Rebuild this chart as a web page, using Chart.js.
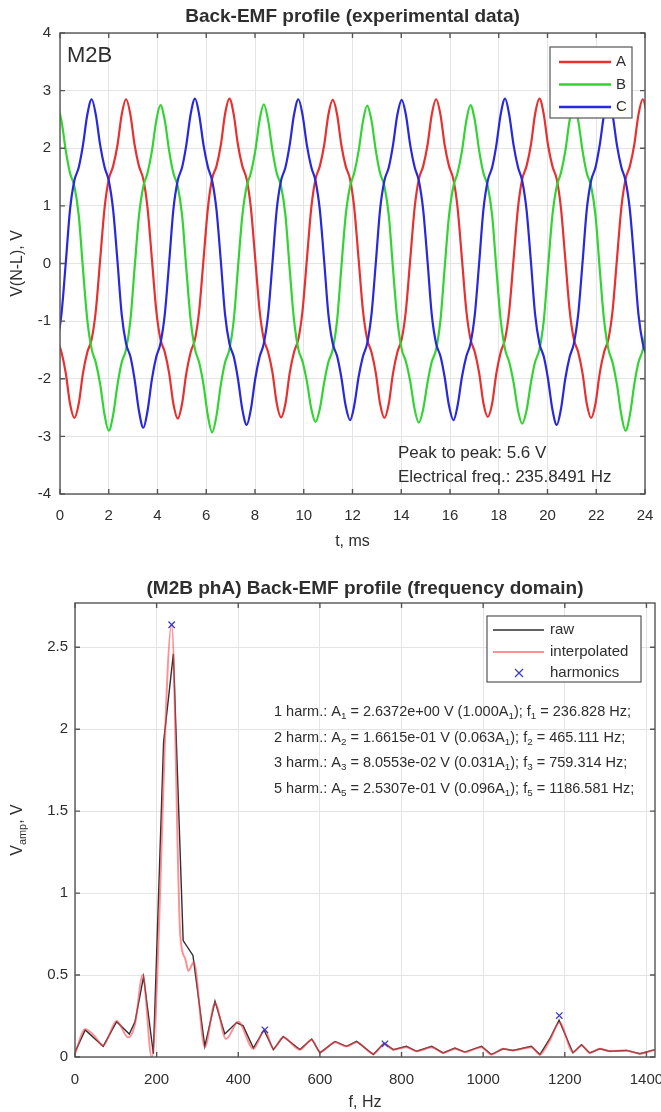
<!DOCTYPE html>
<html>
<head>
<meta charset="utf-8">
<script src="https://cdn.jsdelivr.net/npm/chart.js@4.4.1/dist/chart.umd.min.js"></script>
<style>
  html, body { margin: 0; padding: 0; background: #fff; }
  #wrap { position: relative; width: 661px; height: 1112px; overflow: hidden; }
  .caixa { position: absolute; left: 0; width: 661px; height: 556px; }
  #cima { top: 0; }
  #baixo { top: 556px; }
</style>
</head>
<body>
<div id="wrap">
  <div class="caixa" id="cima"><canvas id="emfTempo" width="661" height="556"></canvas></div>
  <div class="caixa" id="baixo"><canvas id="emfFreq" width="661" height="556"></canvas></div>
</div>
<script>
// ===== Dados do gráfico de cima (domínio do tempo) =====
const tempoMs = [-0.12,
  0.06, 0.24, 0.41, 0.59, 0.77, 0.94, 1.12, 1.30, 1.47, 1.65, 1.83, 2.00, 2.18, 2.36, 2.53, 2.71, 2.89, 3.06, 3.24, 3.42, 3.59, 3.77, 3.95, 4.12,
  4.30, 4.48, 4.65, 4.83, 5.01, 5.18, 5.36, 5.54, 5.71, 5.89, 6.07, 6.24, 6.42, 6.60, 6.77, 6.95, 7.13, 7.30, 7.48, 7.66, 7.83, 8.01, 8.19, 8.36,
  8.54, 8.72, 8.89, 9.07, 9.25, 9.42, 9.60, 9.78, 9.95, 10.13, 10.31, 10.48, 10.66, 10.84, 11.01, 11.19, 11.37, 11.54, 11.72, 11.90, 12.07, 12.25, 12.43, 12.60,
  12.78, 12.96, 13.13, 13.31, 13.49, 13.66, 13.84, 14.02, 14.19, 14.37, 14.55, 14.72, 14.90, 15.08, 15.25, 15.43, 15.61, 15.78, 15.96, 16.14, 16.31, 16.49, 16.67, 16.84,
  17.02, 17.20, 17.37, 17.55, 17.73, 17.90, 18.08, 18.26, 18.43, 18.61, 18.79, 18.96, 19.14, 19.32, 19.49, 19.67, 19.85, 20.02, 20.20, 20.38, 20.55, 20.73, 20.91, 21.08,
  21.26, 21.44, 21.61, 21.79, 21.97, 22.14, 22.32, 22.50, 22.67, 22.85, 23.03, 23.20, 23.38, 23.56, 23.73, 23.91, 24.09];

const faseA = [-1.31,
  -1.54, -1.91, -2.43, -2.68, -2.43, -1.91, -1.54, -1.31, -0.82, 0.08, 0.97, 1.46, 1.69, 2.06, 2.58, 2.85, 2.58, 2.06, 1.69, 1.46, 0.97, 0.08, -0.82, -1.31,
  -1.54, -1.91, -2.43, -2.69, -2.43, -1.91, -1.54, -1.31, -0.82, 0.08, 0.97, 1.47, 1.69, 2.06, 2.59, 2.86, 2.58, 2.06, 1.69, 1.46, 0.97, 0.08, -0.82, -1.31,
  -1.54, -1.90, -2.42, -2.67, -2.43, -1.91, -1.54, -1.31, -0.82, 0.08, 0.97, 1.46, 1.69, 2.06, 2.58, 2.84, 2.58, 2.06, 1.69, 1.46, 0.97, 0.08, -0.82, -1.31,
  -1.54, -1.91, -2.43, -2.68, -2.43, -1.91, -1.54, -1.31, -0.82, 0.08, 0.97, 1.46, 1.69, 2.06, 2.58, 2.85, 2.58, 2.06, 1.69, 1.46, 0.97, 0.08, -0.82, -1.31,
  -1.54, -1.91, -2.42, -2.66, -2.43, -1.91, -1.54, -1.31, -0.82, 0.08, 0.97, 1.46, 1.69, 2.06, 2.59, 2.86, 2.58, 2.06, 1.69, 1.46, 0.97, 0.08, -0.82, -1.31,
  -1.54, -1.91, -2.43, -2.68, -2.43, -1.91, -1.54, -1.31, -0.82, 0.08, 0.97, 1.46, 1.69, 2.06, 2.58, 2.85, 2.58];

const faseB = [2.76,
  2.48, 1.95, 1.57, 1.34, 0.83, -0.08, -0.98, -1.49, -1.72, -2.10, -2.63, -2.90, -2.63, -2.10, -1.72, -1.49, -0.98, -0.08, 0.83, 1.34, 1.57, 1.95, 2.48, 2.75,
  2.48, 1.95, 1.57, 1.34, 0.83, -0.08, -0.98, -1.49, -1.72, -2.11, -2.65, -2.93, -2.64, -2.10, -1.72, -1.49, -0.98, -0.08, 0.83, 1.34, 1.57, 1.95, 2.49, 2.76,
  2.48, 1.95, 1.57, 1.34, 0.83, -0.08, -0.98, -1.49, -1.70, -2.05, -2.52, -2.75, -2.52, -2.06, -1.71, -1.49, -0.98, -0.08, 0.83, 1.34, 1.57, 1.95, 2.47, 2.74,
  2.48, 1.95, 1.57, 1.34, 0.83, -0.08, -0.98, -1.49, -1.70, -2.05, -2.53, -2.76, -2.53, -2.06, -1.71, -1.49, -0.98, -0.08, 0.83, 1.34, 1.57, 1.95, 2.48, 2.75,
  2.48, 1.95, 1.57, 1.34, 0.83, -0.08, -0.98, -1.49, -1.71, -2.07, -2.55, -2.78, -2.55, -2.07, -1.71, -1.49, -0.98, -0.08, 0.83, 1.34, 1.57, 1.95, 2.49, 2.76,
  2.48, 1.95, 1.57, 1.34, 0.83, -0.08, -0.98, -1.49, -1.72, -2.10, -2.63, -2.90, -2.63, -2.10, -1.72, -1.49, -0.98];

const faseC = [-1.39,
  -0.88, 0.03, 0.93, 1.44, 1.67, 2.05, 2.58, 2.85, 2.58, 2.05, 1.67, 1.44, 0.93, 0.03, -0.88, -1.39, -1.62, -2.01, -2.56, -2.85, -2.56, -2.01, -1.62, -1.39,
  -0.88, 0.03, 0.93, 1.44, 1.67, 2.05, 2.59, 2.86, 2.58, 2.05, 1.67, 1.44, 0.93, 0.03, -0.88, -1.39, -1.62, -2.00, -2.53, -2.80, -2.53, -2.00, -1.62, -1.39,
  -0.88, 0.03, 0.93, 1.44, 1.67, 2.05, 2.58, 2.85, 2.58, 2.05, 1.67, 1.44, 0.93, 0.03, -0.88, -1.39, -1.61, -1.97, -2.47, -2.72, -2.47, -1.97, -1.61, -1.39,
  -0.88, 0.03, 0.93, 1.44, 1.67, 2.05, 2.58, 2.84, 2.58, 2.05, 1.67, 1.44, 0.93, 0.03, -0.88, -1.39, -1.61, -1.97, -2.47, -2.72, -2.47, -1.97, -1.61, -1.39,
  -0.88, 0.03, 0.93, 1.44, 1.67, 2.05, 2.59, 2.86, 2.58, 2.05, 1.67, 1.44, 0.93, 0.03, -0.88, -1.39, -1.62, -2.00, -2.53, -2.80, -2.53, -2.00, -1.62, -1.39,
  -0.88, 0.03, 0.93, 1.44, 1.67, 2.05, 2.58, 2.85, 2.58, 2.05, 1.67, 1.44, 0.93, 0.03, -0.88, -1.39, -1.62];

const nomesFases = ['A', 'B', 'C'];
const ticksTempo = [0, 2, 4, 6, 8, 10, 12, 14, 16, 18, 20, 22, 24];
const ticksVolt = [-4, -3, -2, -1, 0, 1, 2, 3, 4];
const picoAPico = 5.6;        // V
const freqEletrica = 235.8491; // Hz

// ===== Dados do gráfico de baixo (domínio da frequência) =====
const rawFreq = [0, 25, 69, 102, 133, 147, 168, 192, 217, 241,
  265, 289, 318, 343, 367, 396, 412, 437, 463, 486,
  510, 551, 580, 600, 637, 665, 690, 731, 757, 780,
  812, 837, 874, 902, 931, 955, 996, 1020, 1049, 1073,
  1118, 1139, 1163, 1186, 1220, 1241, 1261, 1286, 1310, 1351,
  1384, 1421];
const rawAmp = [0.03, 0.165, 0.065, 0.215, 0.14, 0.215, 0.49, 0.02, 1.92, 2.46,
  0.71, 0.62, 0.065, 0.34, 0.14, 0.21, 0.19, 0.055, 0.165, 0.045,
  0.125, 0.045, 0.11, 0.025, 0.095, 0.065, 0.095, 0.015, 0.085, 0.045,
  0.065, 0.035, 0.065, 0.025, 0.055, 0.03, 0.065, 0.015, 0.05, 0.04,
  0.065, 0.015, 0.11, 0.225, 0.025, 0.075, 0.025, 0.05, 0.035, 0.04,
  0.02, 0.045];

const interpFreq = [0, 25, 47, 69, 102, 130, 147, 166, 188, 236.8,
  258, 270, 278, 291, 318, 343, 370, 400, 437, 465,
  486, 510, 551, 580, 600, 637, 665, 690, 731, 759,
  780, 812, 837, 874, 902, 931, 955, 996, 1020, 1049,
  1073, 1118, 1139, 1163, 1187, 1220, 1241, 1261, 1286, 1310,
  1351, 1384, 1421];
const interpAmp = [0.02, 0.17, 0.13, 0.07, 0.22, 0.12, 0.2, 0.5, 0.0, 2.637,
  0.74, 0.6, 0.525, 0.58, 0.06, 0.33, 0.11, 0.215, 0.05, 0.166,
  0.05, 0.12, 0.045, 0.105, 0.03, 0.09, 0.065, 0.09, 0.02, 0.08,
  0.045, 0.06, 0.035, 0.06, 0.025, 0.05, 0.03, 0.06, 0.015, 0.05,
  0.04, 0.06, 0.015, 0.1, 0.21, 0.03, 0.07, 0.025, 0.05, 0.035,
  0.04, 0.02, 0.045];

const harmOrdem = [1, 2, 3, 5];
const harmFreq = [236.828, 465.111, 759.314, 1186.581];
const harmAmp = [2.6372, 0.16615, 0.080553, 0.25307];
const nomesEspectro = ['raw', 'interpolated', 'harmonics'];
const ticksFreq = [0, 200, 400, 600, 800, 1000, 1200, 1400];
const ticksAmp = [0, 0.5, 1, 1.5, 2, 2.5];

// ===== Estilo =====
const FONTE = "'Liberation Sans', Arial, Helvetica, sans-serif";
const TINTA = '#2e2e2e';
const GRADE = '#e4e4e4';
const MOLDURA = '#555555';
const coresFases = ['rgb(232,48,48)', 'rgb(50,212,50)', 'rgb(40,40,222)'];
const corRaw = '#2f2f2f';
const corInterp = 'rgba(255,70,80,0.6)';
const corHarm = '#3a3acc';

const fonte = (px, negrito) => (negrito ? 'bold ' : '') + px + 'px ' + FONTE;
const juntar = (xs, ys) => xs.map((x, i) => ({ x: x, y: ys[i] }));
const fixarTicks = lista => s => { s.ticks = lista.map(v => ({ value: v })); };

// Moldura com marcas de escala para dentro (estilo MATLAB)
function molduraComTicks(chart, len) {
  const { ctx, chartArea: a, scales } = chart;
  ctx.save();
  ctx.strokeStyle = MOLDURA;
  ctx.lineWidth = 1.4;
  ctx.beginPath();
  scales.x.ticks.forEach(t => {
    const px = scales.x.getPixelForValue(t.value);
    ctx.moveTo(px, a.bottom); ctx.lineTo(px, a.bottom - len);
    ctx.moveTo(px, a.top); ctx.lineTo(px, a.top + len);
  });
  scales.y.ticks.forEach(t => {
    const py = scales.y.getPixelForValue(t.value);
    ctx.moveTo(a.left, py); ctx.lineTo(a.left + len, py);
    ctx.moveTo(a.right, py); ctx.lineTo(a.right - len, py);
  });
  ctx.stroke();
  ctx.strokeRect(a.left, a.top, a.right - a.left, a.bottom - a.top);
  ctx.restore();
}

// Texto com subscritos: runs = [[texto, subscrito?], ...]
function larguraRuns(ctx, runs, px) {
  let w = 0;
  runs.forEach(([t, sub]) => { ctx.font = fonte(sub ? px * 0.68 : px); w += ctx.measureText(t).width; });
  return w;
}
function desenharRuns(ctx, runs, x, y, px) {
  let cx = x;
  runs.forEach(([t, sub]) => {
    ctx.font = fonte(sub ? px * 0.68 : px);
    ctx.fillText(t, cx, sub ? y + px * 0.32 : y);
    cx += ctx.measureText(t).width;
  });
}

function expMatlab(v) {
  const [m, e] = v.toExponential(4).split('e');
  const sinal = e[0] === '-' ? '-' : '+';
  return m + 'e' + sinal + e.replace(/[+-]/, '').padStart(2, '0');
}

function caixaLegenda(ctx, x0, y0, x1, y1) {
  ctx.fillStyle = '#fff';
  ctx.fillRect(x0, y0, x1 - x0, y1 - y0);
  ctx.strokeStyle = MOLDURA;
  ctx.lineWidth = 1.2;
  ctx.strokeRect(x0, y0, x1 - x0, y1 - y0);
}

// ===== Gráfico 1: tempo =====
const decorTempo = {
  id: 'decorTempo',
  afterDatasetsDraw(chart) {
    const { ctx, chartArea: a } = chart;
    molduraComTicks(chart, 5);
    ctx.save();
    ctx.textBaseline = 'middle';
    ctx.fillStyle = TINTA;
    ctx.textAlign = 'center';
    ctx.font = fonte(19, true);
    ctx.fillText('Back-EMF profile (experimental data)', (a.left + a.right) / 2, 17);

    ctx.textAlign = 'left';
    ctx.font = fonte(22);
    ctx.fillText('M2B', 67, 56);

    ctx.font = fonte(17);
    ctx.fillText('Peak to peak: ' + picoAPico + ' V', 398, 453);
    ctx.fillText('Electrical freq.: ' + freqEletrica + ' Hz', 398, 477);

    // legenda
    caixaLegenda(ctx, 550, 47, 632, 118);
    nomesFases.forEach((n, i) => {
      const y = 62 + i * 22.5;
      ctx.strokeStyle = coresFases[i];
      ctx.lineWidth = 2.5;
      ctx.beginPath(); ctx.moveTo(559, y); ctx.lineTo(611, y); ctx.stroke();
      ctx.fillStyle = TINTA;
      ctx.font = fonte(15);
      ctx.fillText(n, 616, y);
    });
    ctx.restore();
  }
};

new Chart(document.getElementById('emfTempo'), {
  type: 'line',
  data: {
    datasets: [faseA, faseB, faseC].map((serie, i) => ({
      label: nomesFases[i],
      data: juntar(tempoMs, serie),
      borderColor: coresFases[i],
      borderWidth: 2.2,
      pointRadius: 0,
      cubicInterpolationMode: 'monotone',
      clip: 0,
      order: 2 - i
    }))
  },
  options: {
    responsive: false,
    animation: false,
    events: [],
    layout: { padding: { top: 33, right: 16, bottom: 0, left: 0 } },
    plugins: { legend: { display: false }, title: { display: false }, tooltip: { enabled: false } },
    scales: {
      x: {
        type: 'linear', min: 0, max: 24,
        afterBuildTicks: fixarTicks(ticksTempo),
        ticks: { autoSkip: false, maxRotation: 0, padding: 13, color: TINTA, font: { family: FONTE, size: 15 }, callback: v => String(v) },
        grid: { color: GRADE, drawTicks: false },
        border: { display: false },
        title: { display: true, text: 't, ms', color: TINTA, font: { family: FONTE, size: 16 }, padding: { top: 0, bottom: 5 } },
        afterFit: s => { s.height = 62; s.paddingLeft = 0; s.paddingRight = 0; }
      },
      y: {
        type: 'linear', min: -4, max: 4,
        afterBuildTicks: fixarTicks(ticksVolt),
        ticks: { autoSkip: false, padding: 9, color: TINTA, font: { family: FONTE, size: 15 }, callback: v => String(v) },
        grid: { color: GRADE, drawTicks: false },
        border: { display: false },
        title: { display: true, text: 'V(N-L), V', color: TINTA, font: { family: FONTE, size: 16 }, padding: { top: 8, bottom: 0 } },
        afterFit: s => { s.width = 60; s.paddingTop = 0; s.paddingBottom = 0; }
      }
    }
  },
  plugins: [decorTempo]
});

// ===== Gráfico 2: frequência =====
const decorFreq = {
  id: 'decorFreq',
  afterDatasetsDraw(chart) {
    const { ctx, chartArea: a } = chart;
    molduraComTicks(chart, 5);
    ctx.save();
    ctx.textBaseline = 'middle';
    ctx.fillStyle = TINTA;
    ctx.textAlign = 'center';
    ctx.font = fonte(19, true);
    ctx.fillText('(M2B phA) Back-EMF profile (frequency domain)', (a.left + a.right) / 2, 33);

    // titulo do eixo y com subscrito
    const runsY = [['V', false], ['amp', true], [', V', false]];
    ctx.translate(18, (a.top + a.bottom) / 2);
    ctx.rotate(-Math.PI / 2);
    ctx.textAlign = 'left';
    desenharRuns(ctx, runsY, -larguraRuns(ctx, runsY, 16) / 2, 0, 16);
    ctx.setTransform(1, 0, 0, 1, 0, 0);

    // linhas das harmônicas
    ctx.textAlign = 'left';
    harmOrdem.forEach((n, i) => {
      const razao = (harmAmp[i] / harmAmp[0]).toFixed(3);
      const runs = [
        [n + ' harm.: A', false], [String(n), true],
        [' = ' + expMatlab(harmAmp[i]) + ' V (' + razao + 'A', false], ['1', true],
        ['); f', false], [String(n), true],
        [' = ' + harmFreq[i].toFixed(3) + ' Hz;', false]
      ];
      desenharRuns(ctx, runs, 274, 156 + i * 25.5, 14.5);
    });

    // legenda
    caixaLegenda(ctx, 487, 60, 641, 126);
    const ys = [74, 96, 117];
    ctx.lineWidth = 1.5;
    ctx.strokeStyle = corRaw;
    ctx.beginPath(); ctx.moveTo(493, ys[0]); ctx.lineTo(544, ys[0]); ctx.stroke();
    ctx.lineWidth = 2;
    ctx.strokeStyle = corInterp;
    ctx.beginPath(); ctx.moveTo(493, ys[1]); ctx.lineTo(544, ys[1]); ctx.stroke();
    ctx.lineWidth = 1.3;
    ctx.strokeStyle = corHarm;
    ctx.beginPath();
    ctx.moveTo(515, ys[2] - 4); ctx.lineTo(523, ys[2] + 4);
    ctx.moveTo(523, ys[2] - 4); ctx.lineTo(515, ys[2] + 4);
    ctx.stroke();
    ctx.fillStyle = TINTA;
    ctx.font = fonte(15);
    nomesEspectro.forEach((n, i) => ctx.fillText(n, 550, ys[i]));
    ctx.restore();
  }
};

new Chart(document.getElementById('emfFreq'), {
  type: 'line',
  data: {
    datasets: [
      {
        label: nomesEspectro[0],
        data: juntar(rawFreq, rawAmp),
        borderColor: corRaw, borderWidth: 1.4, pointRadius: 0, tension: 0, clip: 0, order: 3
      },
      {
        label: nomesEspectro[1],
        data: juntar(interpFreq, interpAmp),
        borderColor: corInterp, borderWidth: 2, pointRadius: 0,
        cubicInterpolationMode: 'monotone', clip: 0, order: 2
      },
      {
        label: nomesEspectro[2],
        data: juntar(harmFreq, harmAmp),
        showLine: false, pointStyle: 'crossRot', pointRadius: 4.5,
        pointBorderColor: corHarm, pointBorderWidth: 1.3, borderColor: corHarm, order: 1
      }
    ]
  },
  options: {
    responsive: false,
    animation: false,
    events: [],
    layout: { padding: { top: 47, right: 6, bottom: 0, left: 0 } },
    plugins: { legend: { display: false }, title: { display: false }, tooltip: { enabled: false } },
    scales: {
      x: {
        type: 'linear', min: 0, max: 1421,
        afterBuildTicks: fixarTicks(ticksFreq),
        ticks: { autoSkip: false, maxRotation: 0, padding: 14, color: TINTA, font: { family: FONTE, size: 15 }, callback: v => String(v) },
        grid: { color: GRADE, drawTicks: false },
        border: { display: false },
        title: { display: true, text: 'f, Hz', color: TINTA, font: { family: FONTE, size: 16 }, padding: { top: 0, bottom: 0 } },
        afterFit: s => { s.height = 55; s.paddingLeft = 0; s.paddingRight = 0; }
      },
      y: {
        type: 'linear', min: 0, max: 2.77,
        afterBuildTicks: fixarTicks(ticksAmp),
        ticks: { autoSkip: false, padding: 7, color: TINTA, font: { family: FONTE, size: 15 }, callback: v => String(v) },
        grid: { color: GRADE, drawTicks: false },
        border: { display: false },
        afterFit: s => { s.width = 75; s.paddingTop = 0; s.paddingBottom = 0; }
      }
    }
  },
  plugins: [decorFreq]
});
</script>
</body>
</html>
